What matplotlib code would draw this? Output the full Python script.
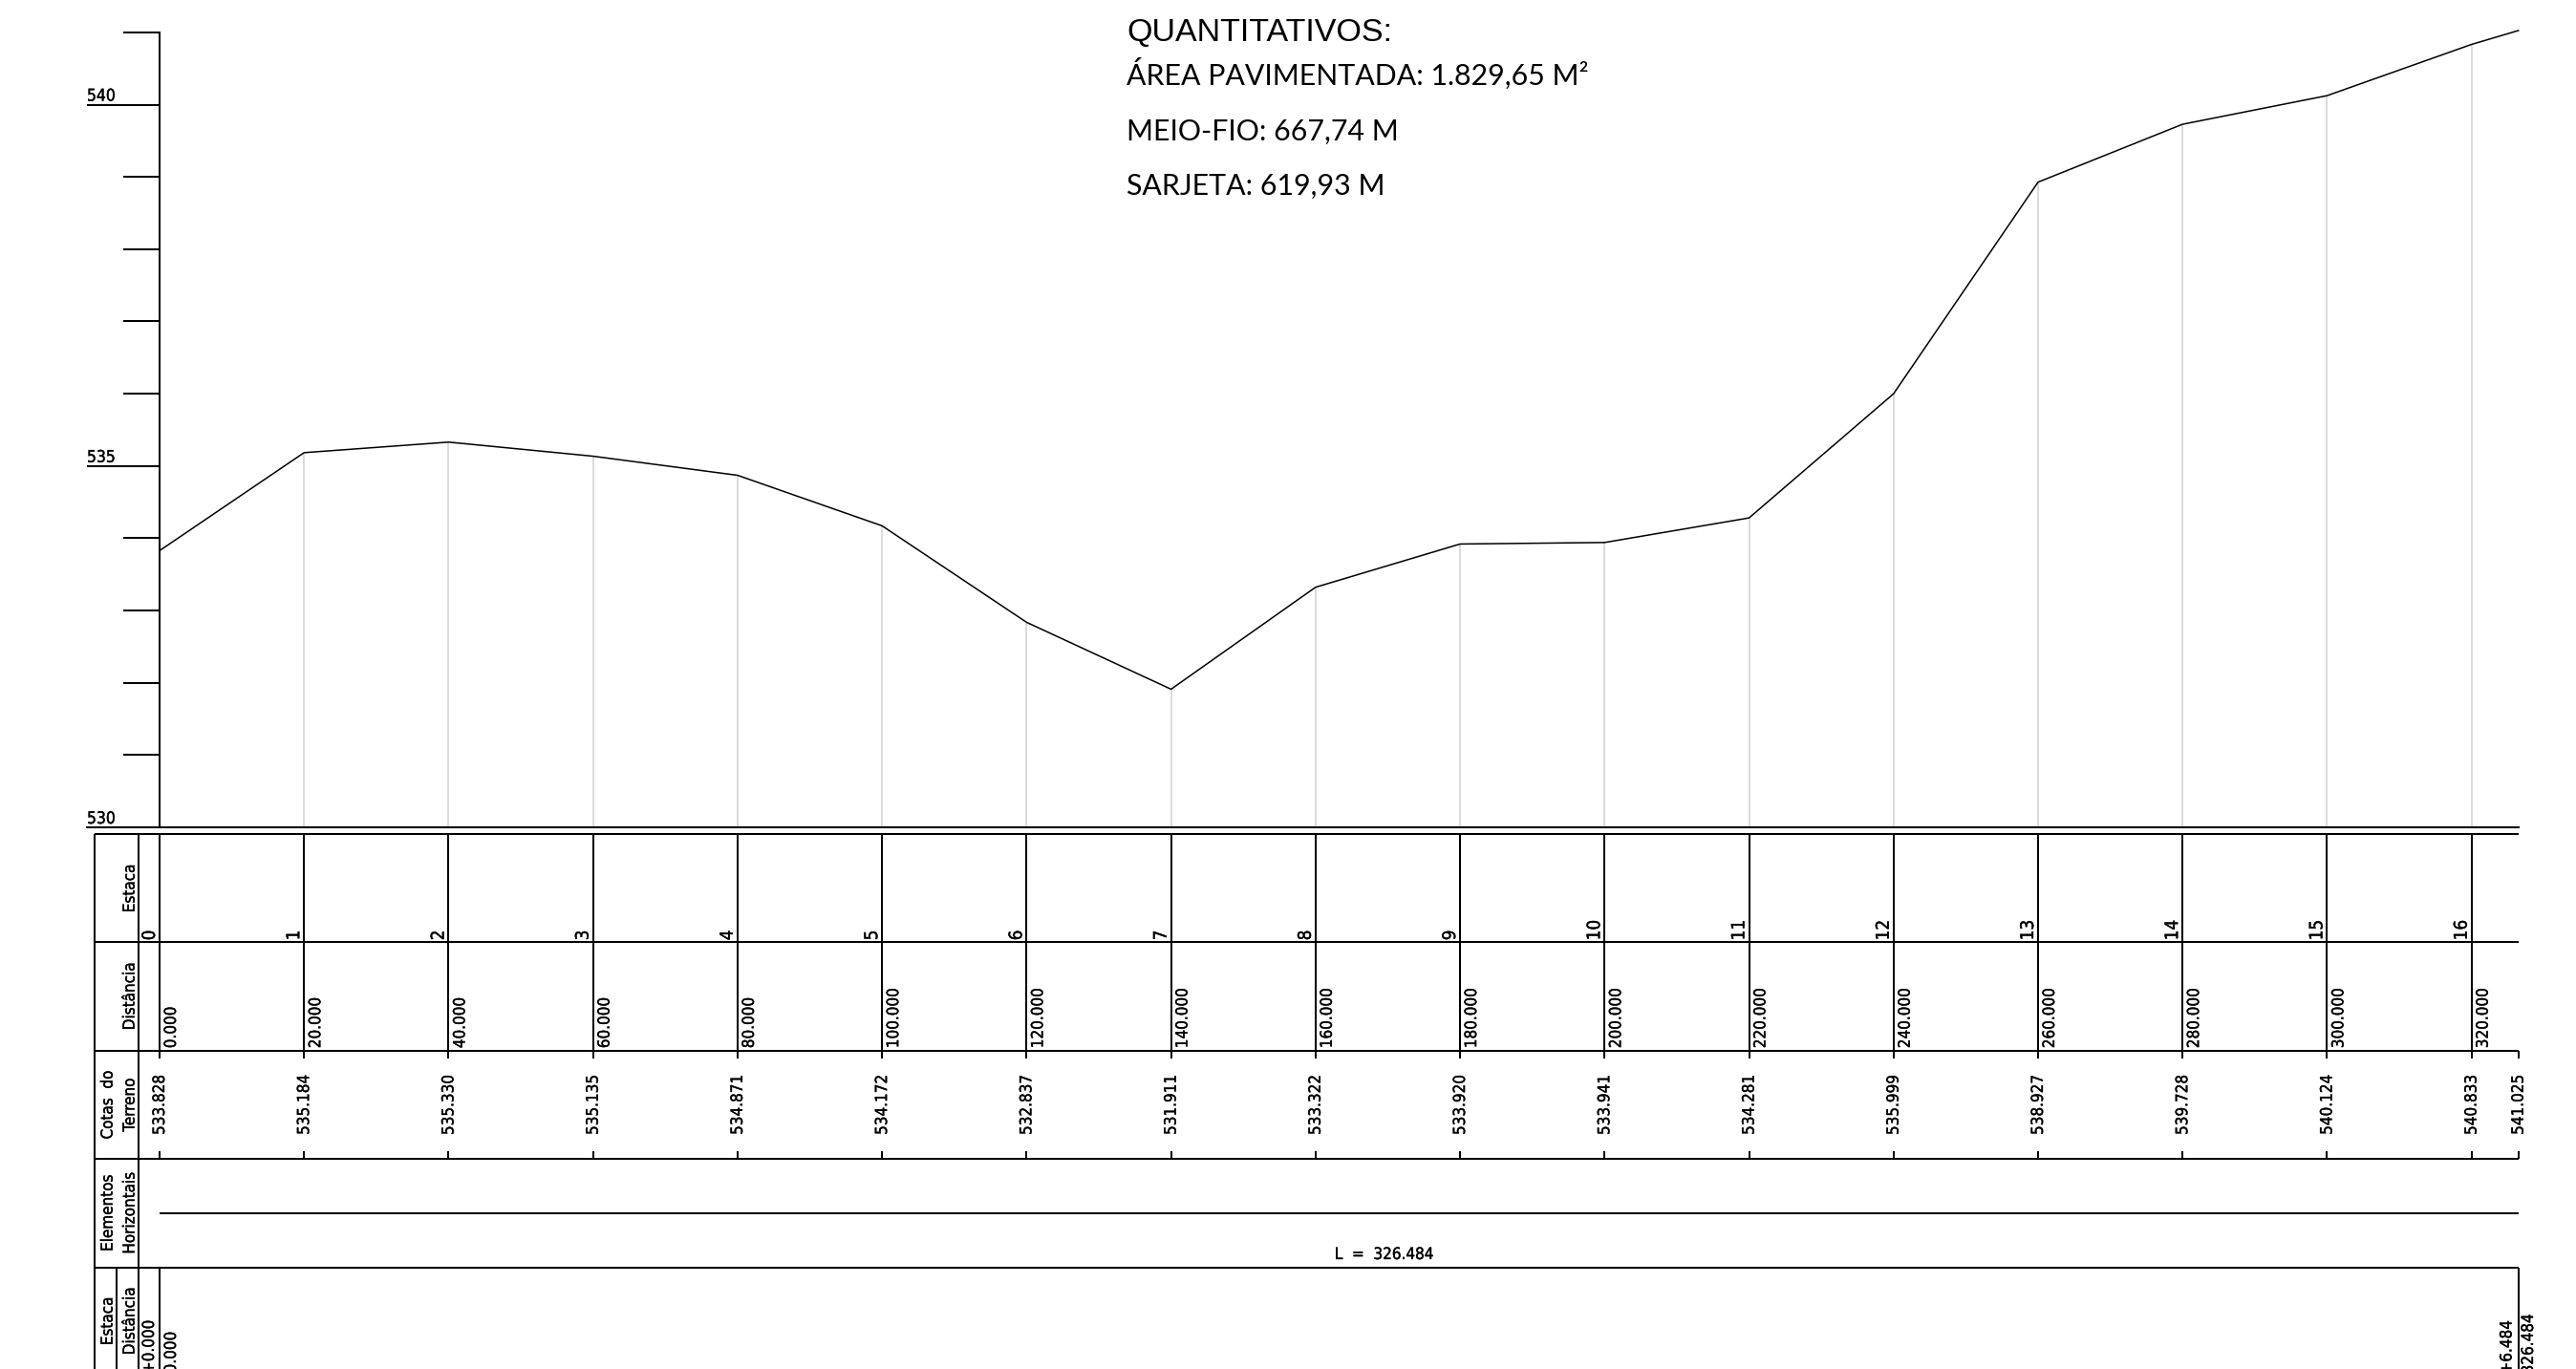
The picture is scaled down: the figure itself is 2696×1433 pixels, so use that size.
import numpy as np
import matplotlib
matplotlib.use("Agg")
import matplotlib.pyplot as plt
import matplotlib.patheffects as pe
from matplotlib.ticker import FixedLocator, NullFormatter

estacas = ["0", "1", "2", "3", "4", "5", "6", "7", "8", "9", "10", "11", "12", "13", "14", "15", "16"]
distancias = [0, 20, 40, 60, 80, 100, 120, 140, 160, 180, 200, 220, 240, 260, 280, 300, 320, 326.484]
cotas = [533.828, 535.184, 535.330, 535.135, 534.871, 534.172, 532.837, 531.911, 533.322,
         533.920, 533.941, 534.281, 535.999, 538.927, 539.728, 540.124, 540.833, 541.025]
cotas_major = [530, 535, 540]
cotas_minor = [531, 532, 533, 534, 536, 537, 538, 539, 541]
quantitativos = ["ÁREA PAVIMENTADA: 1.829,65 M²", "MEIO-FIO: 667,74 M", "SARJETA: 619,93 M"]

W, H = 2696, 1433
X0, X_END = 167.0, 2635.7
ESC_X = (X_END - X0) / distancias[-1]
Y540, ESC_Y = 109.5, 75.65
FIM = distancias[-1]
LW = 1.45
REFORCO = [pe.withStroke(linewidth=0.25, foreground="black")]


def mx(px):
    # pixel da figura -> metros
    return (px - X0) / ESC_X


fig = plt.figure(figsize=(W / 100, H / 100), dpi=100, facecolor="white")

# perfil
ax = fig.add_axes([0, 0, 1, 1])
ax.patch.set_alpha(0)
ax.set_xlim(mx(0), mx(W))
ax.set_ylim(540 - (H - Y540) / ESC_Y, 540 + Y540 / ESC_Y)
ax.vlines(distancias[1:-1], 530, cotas[1:-1], color="#d4d4d4", lw=1.2)
ax.plot(distancias, cotas, color="black", lw=1.1)

for s in ["top", "right"]:
    ax.spines[s].set_visible(False)
ax.spines["left"].set_position(("data", 0))
ax.spines["left"].set_bounds(530, 541)
ax.spines["bottom"].set_position(("data", 530))
ax.spines["bottom"].set_bounds(mx(91), FIM)
for s in ["left", "bottom"]:
    ax.spines[s].set_linewidth(LW)
ax.set_xticks([])
ax.yaxis.set_major_locator(FixedLocator(cotas_major))
ax.yaxis.set_minor_locator(FixedLocator(cotas_minor))
ax.yaxis.set_major_formatter(NullFormatter())
ax.tick_params(axis="y", which="major", direction="out", length=76 * 0.72, width=LW)
ax.tick_params(axis="y", which="minor", direction="out", length=38 * 0.72, width=LW)
for c in cotas_major:
    ax.annotate(str(c), xy=(mx(91), c), xytext=(0, 0), textcoords="offset points",
                ha="left", va="bottom", fontsize=12.5, stretch="condensed", path_effects=REFORCO)

# tabela (mesmo x, y em pixels)
tab = fig.add_axes([0, 0, 1, 1], sharex=ax)
tab.patch.set_alpha(0)
tab.set_ylim(H, 0)
tab.axis("off")
tab.set_xlim(mx(0), mx(W))

TOPO, L1, L2, L3, L4 = 873.3, 986.3, 1099.7, 1213.0, 1326.5
tab.hlines([TOPO, L1, L2, L3, L4], mx(99.3), FIM, color="black", lw=LW)
tab.vlines([mx(99.3), mx(144.7)], TOPO, H, color="black", lw=LW)
tab.vlines(mx(122), L4, H, color="black", lw=LW)
tab.vlines(distancias[:-1], TOPO, L2, color="black", lw=LW)
tab.vlines(distancias, L2, L2 + 8, color="black", lw=LW)
tab.vlines(distancias, L3 - 8, L3, color="black", lw=LW)
tab.vlines([0, FIM], L4, H, color="black", lw=LW)
tab.hlines((L3 + L4) / 2, 0, FIM, color="black", lw=LW)

TXT = dict(rotation=90, fontsize=12.2, stretch="condensed", color="black", path_effects=REFORCO)
for i, est in enumerate(estacas):
    tab.text(distancias[i] - 1 / ESC_X, L1 - 2, est, ha="right", va="bottom", **{**TXT, "fontsize": 13.5})
for d in distancias[:-1]:
    tab.text(d + 3 / ESC_X, L2 - 2.5, f"{d:.3f}", ha="left", va="bottom", **TXT)
for d, c in zip(distancias, cotas):
    tab.text(d, 1156.5, f"{c:.3f}", ha="center", va="center", **TXT)

X_A, X_B = mx(112.7), mx(135.7)
tab.text(X_B, 930, "Estaca", ha="center", va="center", **TXT)
tab.text(X_B, 1043, "Distância", ha="center", va="center", **TXT)
tab.text(X_A, 1156.5, "Cotas  do", ha="center", va="center", **TXT)
tab.text(X_B, 1156.5, "Terreno", ha="center", va="center", **TXT)
tab.text(X_A, 1270, "Elementos", ha="center", va="center", **TXT)
tab.text(X_B, 1270, "Horizontais", ha="center", va="center", **TXT)
tab.text(X_A, 1383, "Estaca", ha="center", va="center", **TXT)
tab.text(X_B, 1383, "Distância", ha="center", va="center", **TXT)

tab.text(mx(1448.5), 1313, "L  =  326.484", ha="center", va="center", fontsize=12.2,
         stretch="condensed", path_effects=REFORCO)
tab.text(mx(165), 1382, "0+0.000", ha="right", va="top", clip_on=True, **TXT)
tab.text(mx(170), 1394, "0.000", ha="left", va="top", clip_on=True, **TXT)
tab.text(mx(2632.5), 1382.5, "16+6.484", ha="right", va="top", clip_on=True, **TXT)
tab.text(mx(2637), 1375.6, "326.484", ha="left", va="top", clip_on=True, **TXT)

# quantitativos
tab.text(mx(1179), 43, "QUANTITATIVOS:", ha="left", va="baseline", fontsize=24.5,
         family="Liberation Sans")
for txt, y in zip(quantitativos, [89, 147, 204]):
    tab.text(mx(1179), y, txt, ha="left", va="baseline", fontsize=21.8, family="Lato")

fig.savefig("out.png", dpi=100, facecolor="white")
